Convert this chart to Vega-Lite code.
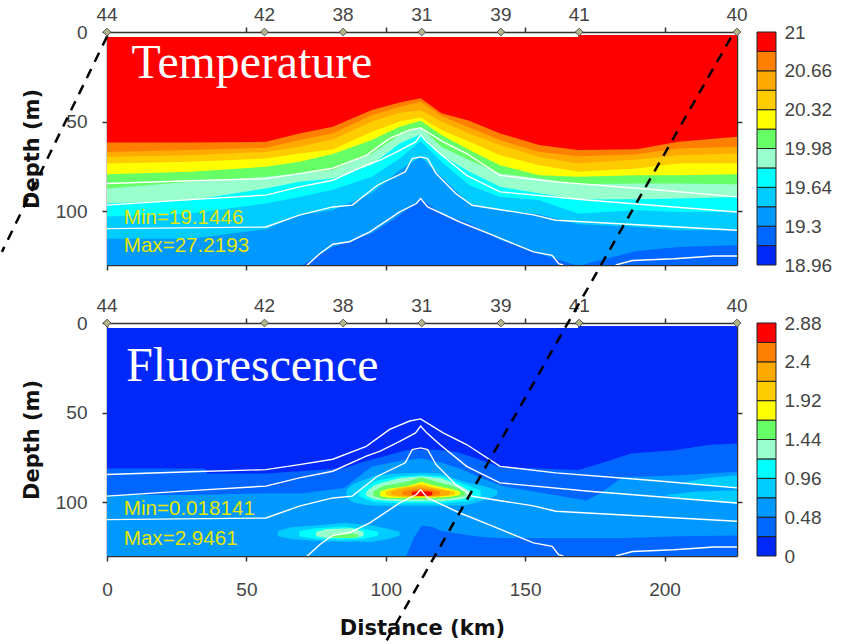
{"$schema":"https://vega.github.io/schema/vega-lite/v6.json","background":"white","padding":{"left":0,"top":6,"right":0,"bottom":0},"columns":2,"spacing":{"row":58,"column":20},"bounds":"flush",
"config":{"view":{"stroke":null},"axis":{"grid":false,"labelFlush":false,"domainColor":"#333333","domainWidth":1.5,"tickColor":"#333333","tickWidth":1.5,"tickSize":5,"labelFont":"Liberation Sans","labelFontSize":19,"labelColor":"#444444","titleFont":"DejaVu Sans","titleFontSize":21,"titleFontWeight":"bold","titleColor":"#111111","zindex":1}},
"datasets":{
"temperature":[
{"level":11,"km":0,"top":2.8},{"level":11,"km":169,"top":2.8},{"level":11,"km":169.01,"top":1.7},{"level":11,"km":226,"top":1.7},
{"level":10,"km":0,"top":61.6},{"level":10,"km":30,"top":61.6},{"level":10,"km":57,"top":61.3},{"level":10,"km":69,"top":56.6},{"level":10,"km":81,"top":52.9},{"level":10,"km":95,"top":43.5},{"level":10,"km":105,"top":39.3},{"level":10,"km":112.5,"top":37},{"level":10,"km":120,"top":45.4},{"level":10,"km":130,"top":49.5},{"level":10,"km":141,"top":56.6},{"level":10,"km":155,"top":63},{"level":10,"km":169,"top":65.9},{"level":10,"km":190,"top":65.4},{"level":10,"km":205,"top":61.3},{"level":10,"km":226,"top":58.5},
{"level":9,"km":0,"top":66.9},{"level":9,"km":30,"top":65.9},{"level":9,"km":57,"top":64.6},{"level":9,"km":69,"top":60.3},{"level":9,"km":81,"top":56.6},{"level":9,"km":95,"top":46.3},{"level":9,"km":105,"top":41.7},{"level":9,"km":112.5,"top":38.9},{"level":9,"km":120,"top":46.9},{"level":9,"km":130,"top":53.3},{"level":9,"km":141,"top":60.3},{"level":9,"km":155,"top":66.8},{"level":9,"km":169,"top":69.3},{"level":9,"km":190,"top":68.2},{"level":9,"km":205,"top":65},{"level":9,"km":226,"top":64},
{"level":8,"km":0,"top":69.6},{"level":8,"km":30,"top":68.7},{"level":8,"km":57,"top":66.9},{"level":8,"km":69,"top":64},{"level":8,"km":81,"top":60},{"level":8,"km":95,"top":50},{"level":8,"km":105,"top":45},{"level":8,"km":112.5,"top":43.6},{"level":8,"km":120,"top":50},{"level":8,"km":130,"top":56.6},{"level":8,"km":141,"top":63},{"level":8,"km":155,"top":69.7},{"level":8,"km":169,"top":73.4},{"level":8,"km":190,"top":71.1},{"level":8,"km":205,"top":68.7},{"level":8,"km":226,"top":67.8},
{"level":7,"km":0,"top":73.4},{"level":7,"km":30,"top":72.4},{"level":7,"km":57,"top":70.6},{"level":7,"km":69,"top":67.8},{"level":7,"km":81,"top":65.5},{"level":7,"km":95,"top":55.7},{"level":7,"km":105,"top":50},{"level":7,"km":112.5,"top":47.7},{"level":7,"km":120,"top":54.7},{"level":7,"km":130,"top":61.3},{"level":7,"km":141,"top":68.7},{"level":7,"km":155,"top":74.3},{"level":7,"km":169,"top":78},{"level":7,"km":190,"top":76.2},{"level":7,"km":205,"top":73.4},{"level":7,"km":226,"top":73.4},
{"level":6,"km":0,"top":79.3},{"level":6,"km":30,"top":78},{"level":6,"km":57,"top":75.2},{"level":6,"km":69,"top":72.4},{"level":6,"km":81,"top":68},{"level":6,"km":95,"top":60.3},{"level":6,"km":105,"top":52.9},{"level":6,"km":112.5,"top":49.5},{"level":6,"km":120,"top":57.5},{"level":6,"km":130,"top":65.9},{"level":6,"km":141,"top":74.3},{"level":6,"km":155,"top":79.9},{"level":6,"km":169,"top":80.8},{"level":6,"km":190,"top":79.9},{"level":6,"km":205,"top":79.9},{"level":6,"km":226,"top":79.3},
{"level":5,"km":0,"top":87.3},{"level":5,"km":30,"top":83.6},{"level":5,"km":57,"top":80.8},{"level":5,"km":69,"top":79},{"level":5,"km":81,"top":77},{"level":5,"km":95,"top":67.8},{"level":5,"km":105,"top":57.5},{"level":5,"km":112.5,"top":53.3},{"level":5,"km":120,"top":64},{"level":5,"km":130,"top":71.5},{"level":5,"km":141,"top":79},{"level":5,"km":155,"top":81.8},{"level":5,"km":169,"top":84.9},{"level":5,"km":190,"top":84.5},{"level":5,"km":205,"top":84.5},{"level":5,"km":226,"top":84.9},
{"level":4,"km":0,"top":95.7},{"level":4,"km":30,"top":93.9},{"level":4,"km":57,"top":87.3},{"level":4,"km":69,"top":83.6},{"level":4,"km":81,"top":81.8},{"level":4,"km":95,"top":74},{"level":4,"km":105,"top":62.2},{"level":4,"km":112.5,"top":57},{"level":4,"km":120,"top":68.7},{"level":4,"km":130,"top":78},{"level":4,"km":141,"top":86.4},{"level":4,"km":155,"top":90},{"level":4,"km":169,"top":93.5},{"level":4,"km":190,"top":93.3},{"level":4,"km":205,"top":92.9},{"level":4,"km":226,"top":92},
{"level":3,"km":0,"top":103},{"level":3,"km":30,"top":101.3},{"level":3,"km":57,"top":95.7},{"level":3,"km":69,"top":92},{"level":3,"km":81,"top":88},{"level":3,"km":95,"top":80.8},{"level":3,"km":105,"top":70.6},{"level":3,"km":112.5,"top":61},{"level":3,"km":120,"top":72.4},{"level":3,"km":130,"top":85.5},{"level":3,"km":141,"top":92},{"level":3,"km":155,"top":93.8},{"level":3,"km":169,"top":101.3},{"level":3,"km":190,"top":99.4},{"level":3,"km":205,"top":100.4},{"level":3,"km":226,"top":100.4},
{"level":2,"km":0,"top":115.3},{"level":2,"km":30,"top":115.3},{"level":2,"km":57,"top":110},{"level":2,"km":69,"top":102},{"level":2,"km":81,"top":99.4},{"level":2,"km":95,"top":90},{"level":2,"km":105,"top":77},{"level":2,"km":112.5,"top":69.7},{"level":2,"km":120,"top":80.8},{"level":2,"km":130,"top":95.7},{"level":2,"km":141,"top":99.4},{"level":2,"km":155,"top":101.7},{"level":2,"km":169,"top":107.3},{"level":2,"km":190,"top":108.8},{"level":2,"km":205,"top":110.6},{"level":2,"km":226,"top":110.6},
{"level":1,"km":0,"top":140},{"level":1,"km":30,"top":135},{"level":1,"km":57,"top":133},{"level":1,"km":69,"top":131},{"level":1,"km":81,"top":120},{"level":1,"km":95,"top":112.4},{"level":1,"km":105,"top":102.2},{"level":1,"km":112.5,"top":93},{"level":1,"km":120,"top":101.3},{"level":1,"km":130,"top":106.9},{"level":1,"km":141,"top":116},{"level":1,"km":155,"top":123.7},{"level":1,"km":169,"top":130.5},{"level":1,"km":190,"top":122.2},{"level":1,"km":205,"top":120},{"level":1,"km":226,"top":119}
],
"fluorescence":[
{"level":0,"part":"0","km":0,"top":2.8,"bottom":130},{"level":0,"part":"0","km":169,"top":2.8,"bottom":130},{"level":0,"part":"0","km":169.01,"top":1.7,"bottom":130},{"level":0,"part":"0","km":226,"top":1.7,"bottom":130},
{"level":1,"part":"1","km":0,"top":81.2,"bottom":130},{"level":1,"part":"1","km":35,"top":81.2,"bottom":130},{"level":1,"part":"1","km":36,"top":84,"bottom":130},{"level":1,"part":"1","km":57,"top":84,"bottom":130},{"level":1,"part":"1","km":85,"top":81,"bottom":130},{"level":1,"part":"1","km":93,"top":77,"bottom":130},{"level":1,"part":"1","km":107.4,"top":71,"bottom":130},{"level":1,"part":"1","km":117,"top":70.6,"bottom":130},{"level":1,"part":"1","km":125.4,"top":72,"bottom":130},{"level":1,"part":"1","km":132.6,"top":75.6,"bottom":130},{"level":1,"part":"1","km":141,"top":80.3,"bottom":130},{"level":1,"part":"1","km":169,"top":82,"bottom":130},{"level":1,"part":"1","km":178.6,"top":77.5,"bottom":130},{"level":1,"part":"1","km":188,"top":72.8,"bottom":130},{"level":1,"part":"1","km":203.5,"top":71,"bottom":130},{"level":1,"part":"1","km":215.5,"top":68,"bottom":130},{"level":1,"part":"1","km":226,"top":67.2,"bottom":130},
{"level":2,"part":"2","km":0,"top":96,"bottom":130},{"level":2,"part":"2","km":30,"top":96,"bottom":130},{"level":2,"part":"2","km":57,"top":95,"bottom":130},{"level":2,"part":"2","km":70,"top":95,"bottom":130},{"level":2,"part":"2","km":85,"top":92,"bottom":130},{"level":2,"part":"2","km":90,"top":86,"bottom":130},{"level":2,"part":"2","km":95,"top":80,"bottom":130},{"level":2,"part":"2","km":105,"top":77,"bottom":130},{"level":2,"part":"2","km":107.4,"top":76.5,"bottom":130},{"level":2,"part":"2","km":110,"top":76,"bottom":120},{"level":2,"part":"2","km":113,"top":75.6,"bottom":113},{"level":2,"part":"2","km":117,"top":77,"bottom":114},{"level":2,"part":"2","km":120,"top":78,"bottom":116},{"level":2,"part":"2","km":128,"top":82,"bottom":118},{"level":2,"part":"2","km":135,"top":87,"bottom":119.5},{"level":2,"part":"2","km":142,"top":91,"bottom":120},{"level":2,"part":"2","km":153,"top":94,"bottom":120},{"level":2,"part":"2","km":172,"top":99,"bottom":120},{"level":2,"part":"2","km":177,"top":95,"bottom":120},{"level":2,"part":"2","km":185,"top":86,"bottom":120},{"level":2,"part":"2","km":205,"top":85,"bottom":119},{"level":2,"part":"2","km":226,"top":83,"bottom":118.5},
{"level":3,"part":"3a","km":85.9,"top":93.5,"bottom":97},{"level":3,"part":"3a","km":88,"top":90,"bottom":100},{"level":3,"part":"3a","km":93,"top":87,"bottom":101.5},{"level":3,"part":"3a","km":96.6,"top":85,"bottom":102},{"level":3,"part":"3a","km":105,"top":84,"bottom":102},{"level":3,"part":"3a","km":112.8,"top":83.5,"bottom":102},{"level":3,"part":"3a","km":119.4,"top":84,"bottom":102},{"level":3,"part":"3a","km":129,"top":89,"bottom":101.5},{"level":3,"part":"3a","km":135,"top":91,"bottom":99},{"level":3,"part":"3a","km":140,"top":93.3,"bottom":96},
{"level":3,"part":"3b","km":61.3,"top":116,"bottom":119},{"level":3,"part":"3b","km":66,"top":114,"bottom":120.5},{"level":3,"part":"3b","km":75,"top":113,"bottom":121.5},{"level":3,"part":"3b","km":85,"top":111.5,"bottom":122},{"level":3,"part":"3b","km":95,"top":113,"bottom":122},{"level":3,"part":"3b","km":101,"top":115,"bottom":120.5},{"level":3,"part":"3b","km":105,"top":116.5,"bottom":118.5},
{"level":3,"part":"3c","km":207,"top":89,"bottom":89.5},{"level":3,"part":"3c","km":215,"top":86.5,"bottom":91},{"level":3,"part":"3c","km":226,"top":84.9,"bottom":92.4},
{"level":3,"part":"3d","km":200.8,"top":96,"bottom":96.5},{"level":3,"part":"3d","km":210,"top":94.2,"bottom":98.5},{"level":3,"part":"3d","km":226,"top":93.3,"bottom":101},
{"level":4,"part":"4a","km":90.5,"top":94,"bottom":96.5},{"level":4,"part":"4a","km":93,"top":91,"bottom":98.5},{"level":4,"part":"4a","km":96.6,"top":88,"bottom":100},{"level":4,"part":"4a","km":105,"top":85.5,"bottom":100.5},{"level":4,"part":"4a","km":112.8,"top":85,"bottom":100.5},{"level":4,"part":"4a","km":120,"top":85.5,"bottom":100.5},{"level":4,"part":"4a","km":129,"top":90.5,"bottom":99.5},{"level":4,"part":"4a","km":134,"top":93.5,"bottom":97},
{"level":4,"part":"4b","km":69,"top":116,"bottom":119},{"level":4,"part":"4b","km":75,"top":114.5,"bottom":120.5},{"level":4,"part":"4b","km":85,"top":113.5,"bottom":121},{"level":4,"part":"4b","km":92,"top":115,"bottom":120.5},{"level":4,"part":"4b","km":97.3,"top":116.5,"bottom":118.5},
{"level":5,"part":"5a","km":93,"top":94,"bottom":96.5},{"level":5,"part":"5a","km":96,"top":90.5,"bottom":98.5},{"level":5,"part":"5a","km":99,"top":89,"bottom":99},{"level":5,"part":"5a","km":105,"top":86.5,"bottom":99.5},{"level":5,"part":"5a","km":112.8,"top":85.5,"bottom":99.5},{"level":5,"part":"5a","km":120,"top":86.5,"bottom":99.5},{"level":5,"part":"5a","km":127,"top":91,"bottom":98.5},{"level":5,"part":"5a","km":130.5,"top":94,"bottom":96.5},
{"level":5,"part":"5b","km":75,"top":116.5,"bottom":119},{"level":5,"part":"5b","km":79,"top":115,"bottom":120},{"level":5,"part":"5b","km":88,"top":114.5,"bottom":120},{"level":5,"part":"5b","km":92,"top":116.5,"bottom":119},
{"level":6,"part":"6a","km":95.5,"top":94,"bottom":96.5},{"level":6,"part":"6a","km":99,"top":91,"bottom":98},{"level":6,"part":"6a","km":108,"top":88.5,"bottom":98.5},{"level":6,"part":"6a","km":112.8,"top":86,"bottom":98.5},{"level":6,"part":"6a","km":118,"top":88.5,"bottom":98.5},{"level":6,"part":"6a","km":124,"top":91,"bottom":97.8},{"level":6,"part":"6a","km":128.5,"top":94,"bottom":96.5},
{"level":6,"part":"6b","km":80,"top":118,"bottom":119.5},{"level":6,"part":"6b","km":84,"top":117.5,"bottom":119.8},{"level":6,"part":"6b","km":88,"top":117.5,"bottom":119.8},{"level":6,"part":"6b","km":90,"top":118,"bottom":119.5},
{"level":7,"part":"7","km":98,"top":94,"bottom":96.5},{"level":7,"part":"7","km":101,"top":92.5,"bottom":97.5},{"level":7,"part":"7","km":108,"top":91,"bottom":97.5},{"level":7,"part":"7","km":112.8,"top":88.6,"bottom":97.5},{"level":7,"part":"7","km":118,"top":91,"bottom":97.5},{"level":7,"part":"7","km":123,"top":92.5,"bottom":97},{"level":7,"part":"7","km":126.6,"top":94,"bottom":96},
{"level":8,"part":"8","km":100,"top":94,"bottom":96},{"level":8,"part":"8","km":103,"top":92.5,"bottom":97},{"level":8,"part":"8","km":112.8,"top":90,"bottom":97},{"level":8,"part":"8","km":118,"top":92,"bottom":97},{"level":8,"part":"8","km":124.8,"top":94,"bottom":96},
{"level":9,"part":"9","km":102,"top":94,"bottom":96},{"level":9,"part":"9","km":106,"top":92.5,"bottom":96.8},{"level":9,"part":"9","km":112.8,"top":91,"bottom":96.8},{"level":9,"part":"9","km":118,"top":92.5,"bottom":96.8},{"level":9,"part":"9","km":123,"top":94,"bottom":96},
{"level":10,"part":"10","km":106,"top":94,"bottom":96},{"level":10,"part":"10","km":109,"top":93,"bottom":96.5},{"level":10,"part":"10","km":112.8,"top":92.4,"bottom":96.5},{"level":10,"part":"10","km":116,"top":93,"bottom":96.5},{"level":10,"part":"10","km":119.4,"top":94,"bottom":96},
{"level":11,"part":"11","km":109.4,"top":94.3,"bottom":96},{"level":11,"part":"11","km":110.5,"top":94,"bottom":96.4},{"level":11,"part":"11","km":112.8,"top":93.8,"bottom":96.5},{"level":11,"part":"11","km":115.5,"top":94,"bottom":96.4},{"level":11,"part":"11","km":116.7,"top":94.3,"bottom":96}
],
"contours":[
{"part":"A","km":0,"depth":84.5},{"part":"A","km":30,"depth":83},{"part":"A","km":57,"depth":81.8},{"part":"A","km":69,"depth":79},{"part":"A","km":81,"depth":76},{"part":"A","km":93,"depth":68.8},{"part":"A","km":101.4,"depth":59.4},{"part":"A","km":108.6,"depth":54.7},{"part":"A","km":112.5,"depth":53.5},{"part":"A","km":120.6,"depth":61.3},{"part":"A","km":129,"depth":67.8},{"part":"A","km":141,"depth":80},{"part":"A","km":161,"depth":83.6},{"part":"A","km":197,"depth":88},{"part":"A","km":226,"depth":92},
{"part":"B","km":0,"depth":96.6},{"part":"B","km":30,"depth":93.5},{"part":"B","km":57,"depth":91},{"part":"B","km":69,"depth":86.4},{"part":"B","km":81,"depth":82.7},{"part":"B","km":93,"depth":74.3},{"part":"B","km":98,"depth":71.5},{"part":"B","km":105,"depth":66},{"part":"B","km":110.7,"depth":61.3},{"part":"B","km":112.5,"depth":57.5},{"part":"B","km":114.7,"depth":61.3},{"part":"B","km":119.4,"depth":67.8},{"part":"B","km":129,"depth":80},{"part":"B","km":141,"depth":89.2},{"part":"B","km":173,"depth":93.9},{"part":"B","km":226,"depth":100.4},
{"part":"C","km":0,"depth":109.7},{"part":"C","km":57,"depth":108.8},{"part":"C","km":69,"depth":102.2},{"part":"C","km":81,"depth":97.6},{"part":"C","km":88,"depth":96.6},{"part":"C","km":97,"depth":85.5},{"part":"C","km":107,"depth":78},{"part":"C","km":109.5,"depth":70.6},{"part":"C","km":112.5,"depth":69.7},{"part":"C","km":115,"depth":70.6},{"part":"C","km":118,"depth":78.9},{"part":"C","km":125,"depth":90},{"part":"C","km":131,"depth":96.7},{"part":"C","km":153,"depth":102},{"part":"C","km":161,"depth":105},{"part":"C","km":226,"depth":110.6},
{"part":"D","km":71.5,"depth":130.5},{"part":"D","km":76.3,"depth":123.7},{"part":"D","km":81,"depth":118.4},{"part":"D","km":87,"depth":117},{"part":"D","km":94.3,"depth":111.5},{"part":"D","km":105,"depth":100.4},{"part":"D","km":111,"depth":95.7},{"part":"D","km":112.5,"depth":92.9},{"part":"D","km":115,"depth":97.6},{"part":"D","km":126.6,"depth":106},{"part":"D","km":137,"depth":112.5},{"part":"D","km":153,"depth":122.7},{"part":"D","km":159.7,"depth":124.6},{"part":"D","km":162,"depth":129.3},{"part":"D","km":163.7,"depth":130},
{"part":"E","km":182.5,"depth":130},{"part":"E","km":188.5,"depth":127.5},{"part":"E","km":203.4,"depth":126.5},{"part":"E","km":217.7,"depth":125},{"part":"E","km":226,"depth":125}
],
"stations":[{"km":0,"depth":0,"station":"44"},{"km":56.5,"depth":0,"station":"42"},{"km":84.7,"depth":0,"station":"38"},{"km":112.9,"depth":0,"station":"31"},{"km":141.3,"depth":0,"station":"39"},{"km":169.4,"depth":0,"station":"41"},{"km":226,"depth":0,"station":"40"}],
"tbar":[{"level":0,"low":18.96,"high":19.13},{"level":1,"low":19.13,"high":19.3},{"level":2,"low":19.3,"high":19.47},{"level":3,"low":19.47,"high":19.64},{"level":4,"low":19.64,"high":19.81},{"level":5,"low":19.81,"high":19.98},{"level":6,"low":19.98,"high":20.15},{"level":7,"low":20.15,"high":20.32},{"level":8,"low":20.32,"high":20.49},{"level":9,"low":20.49,"high":20.66},{"level":10,"low":20.66,"high":20.83},{"level":11,"low":20.83,"high":21}],
"fbar":[{"level":0,"low":0,"high":0.24},{"level":1,"low":0.24,"high":0.48},{"level":2,"low":0.48,"high":0.72},{"level":3,"low":0.72,"high":0.96},{"level":4,"low":0.96,"high":1.2},{"level":5,"low":1.2,"high":1.44},{"level":6,"low":1.44,"high":1.68},{"level":7,"low":1.68,"high":1.92},{"level":8,"low":1.92,"high":2.16},{"level":9,"low":2.16,"high":2.4},{"level":10,"low":2.4,"high":2.64},{"level":11,"low":2.64,"high":2.88}]
},
"concat":[
{"width":630,"height":233,"resolve":{"axis":{"x":"independent","y":"independent"}},"layer":[
{"data":{"name":"temperature"},"mark":{"type":"area","orient":"vertical","clip":true},"encoding":{"x":{"field":"km","type":"quantitative","scale":{"domain":[0,226],"nice":false},"axis":{"values":[0,50,100,150,200],"labels":false,"title":null}},"y":{"field":"top","type":"quantitative","scale":{"domain":[0,130],"reverse":true,"nice":false},"axis":{"values":[0,50,100],"title":"Depth (m)","titlePadding":12.5,"labelPadding":15}},"y2":{"datum":130},"color":{"field":"level","type":"nominal","legend":null,"scale":{"domain":[0,1,2,3,4,5,6,7,8,9,10,11],"range":["#0028f8","#0066ff","#0099ff","#00ccff","#00ffff","#99ffcc","#66ff66","#ffff00","#ffcc00","#ffaa00","#ff7f00","#ff0000"]}}}},
{"data":{"name":"contours"},"mark":{"type":"line","color":"white","strokeWidth":1.4,"clip":true},"encoding":{"x":{"field":"km","type":"quantitative","scale":{"domain":[0,226],"nice":false},"axis":null},"y":{"field":"depth","type":"quantitative","scale":{"domain":[0,130],"reverse":true,"nice":false},"axis":null},"detail":{"field":"part"}}},
{"data":{"values":[{"km":8.8,"depth":25.8,"label":"Temperature"}]},"mark":{"type":"text","font":"Liberation Serif","fontSize":47.8,"color":"white","align":"left","baseline":"alphabetic"},"encoding":{"x":{"field":"km","type":"quantitative","scale":{"domain":[0,226],"nice":false},"axis":null},"y":{"field":"depth","type":"quantitative","scale":{"domain":[0,130],"reverse":true,"nice":false},"axis":null},"text":{"field":"label"}}},
{"data":{"values":[{"km":6,"depth":103.7,"label":"Min=19.1446"},{"km":6,"depth":119.6,"label":"Max=27.2193"}]},"mark":{"type":"text","font":"Liberation Sans","fontSize":20.6,"color":"#e6e600","align":"left","baseline":"middle"},"encoding":{"x":{"field":"km","type":"quantitative","scale":{"domain":[0,226],"nice":false},"axis":null},"y":{"field":"depth","type":"quantitative","scale":{"domain":[0,130],"reverse":true,"nice":false},"axis":null},"text":{"field":"label"}}},
{"data":{"name":"stations"},"mark":{"type":"text","font":"Liberation Sans","fontSize":19,"color":"#444444","dy":-17,"baseline":"middle"},"encoding":{"x":{"field":"km","type":"quantitative","scale":{"domain":[0,226],"nice":false},"axis":null},"y":{"field":"depth","type":"quantitative","scale":{"domain":[0,130],"reverse":true,"nice":false},"axis":null},"text":{"field":"station"}}},
{"data":{"name":"stations"},"mark":{"type":"point","shape":"diamond","filled":true,"size":60,"fill":"#b5b58c","stroke":"#555555","strokeWidth":1,"opacity":1},"encoding":{"x":{"field":"km","type":"quantitative","scale":{"domain":[0,226],"nice":false},"axis":{"orient":"top","values":[50,100,150,200],"labels":false,"title":null}},"y":{"field":"depth","type":"quantitative","scale":{"domain":[0,130],"reverse":true,"nice":false},"axis":{"orient":"right","values":[50,100],"labels":false,"title":null}}}}
]},
{"width":19,"height":233,"data":{"name":"tbar"},"mark":{"type":"rect","stroke":"#222222","strokeWidth":1},"encoding":{"y":{"field":"low","type":"quantitative","scale":{"domain":[18.96,21],"nice":false,"zero":false},"axis":{"values":[18.96,19.3,19.64,19.98,20.32,20.66,21],"labelExpr":"''+datum.value","ticks":false,"domain":false,"orient":"right","labelPadding":8,"title":null}},"y2":{"field":"high"},"color":{"field":"level","type":"nominal","legend":null,"scale":{"domain":[0,1,2,3,4,5,6,7,8,9,10,11],"range":["#0028f8","#0066ff","#0099ff","#00ccff","#00ffff","#99ffcc","#66ff66","#ffff00","#ffcc00","#ffaa00","#ff7f00","#ff0000"]}}}},
{"width":630,"height":233,"resolve":{"axis":{"x":"independent","y":"independent"}},"layer":[
{"data":{"name":"fluorescence"},"mark":{"type":"area","orient":"vertical","clip":true},"encoding":{"x":{"field":"km","type":"quantitative","scale":{"domain":[0,226],"nice":false},"axis":{"values":[0,50,100,150,200],"title":"Distance (km)","labelPadding":19,"titlePadding":18}},"y":{"field":"top","type":"quantitative","scale":{"domain":[0,130],"reverse":true,"nice":false},"axis":{"values":[0,50,100],"title":"Depth (m)","titlePadding":12.5,"labelPadding":15}},"y2":{"field":"bottom"},"detail":{"field":"part"},"color":{"field":"level","type":"nominal","legend":null,"scale":{"domain":[0,1,2,3,4,5,6,7,8,9,10,11],"range":["#0028f8","#0066ff","#0099ff","#00ccff","#00ffff","#99ffcc","#66ff66","#ffff00","#ffcc00","#ffaa00","#ff7f00","#ff0000"]}}}},
{"data":{"name":"contours"},"mark":{"type":"line","color":"white","strokeWidth":1.4,"clip":true},"encoding":{"x":{"field":"km","type":"quantitative","scale":{"domain":[0,226],"nice":false},"axis":null},"y":{"field":"depth","type":"quantitative","scale":{"domain":[0,130],"reverse":true,"nice":false},"axis":null},"detail":{"field":"part"}}},
{"data":{"values":[{"km":6.9,"depth":32.2,"label":"Fluorescence"}]},"mark":{"type":"text","font":"Liberation Serif","fontSize":47.8,"color":"white","align":"left","baseline":"alphabetic"},"encoding":{"x":{"field":"km","type":"quantitative","scale":{"domain":[0,226],"nice":false},"axis":null},"y":{"field":"depth","type":"quantitative","scale":{"domain":[0,130],"reverse":true,"nice":false},"axis":null},"text":{"field":"label"}}},
{"data":{"values":[{"km":6,"depth":103.9,"label":"Min=0.018141"},{"km":6,"depth":120.3,"label":"Max=2.9461"}]},"mark":{"type":"text","font":"Liberation Sans","fontSize":20.6,"color":"#e6e600","align":"left","baseline":"middle"},"encoding":{"x":{"field":"km","type":"quantitative","scale":{"domain":[0,226],"nice":false},"axis":null},"y":{"field":"depth","type":"quantitative","scale":{"domain":[0,130],"reverse":true,"nice":false},"axis":null},"text":{"field":"label"}}},
{"data":{"name":"stations"},"mark":{"type":"text","font":"Liberation Sans","fontSize":19,"color":"#444444","dy":-17,"baseline":"middle"},"encoding":{"x":{"field":"km","type":"quantitative","scale":{"domain":[0,226],"nice":false},"axis":null},"y":{"field":"depth","type":"quantitative","scale":{"domain":[0,130],"reverse":true,"nice":false},"axis":null},"text":{"field":"station"}}},
{"data":{"name":"stations"},"mark":{"type":"point","shape":"diamond","filled":true,"size":60,"fill":"#b5b58c","stroke":"#555555","strokeWidth":1,"opacity":1},"encoding":{"x":{"field":"km","type":"quantitative","scale":{"domain":[0,226],"nice":false},"axis":{"orient":"top","values":[50,100,150,200],"labels":false,"title":null}},"y":{"field":"depth","type":"quantitative","scale":{"domain":[0,130],"reverse":true,"nice":false},"axis":{"orient":"right","values":[50,100],"labels":false,"title":null}}}},
{"data":{"values":[{"id":"left","km":0,"depth":-159.8},{"id":"left","km":-37.7,"depth":-39.7},{"id":"right","km":223.8,"depth":-159.2},{"id":"right","km":100.3,"depth":177.1}]},"mark":{"type":"line","color":"black","strokeWidth":2.5,"strokeDash":[10,8],"strokeJoin":"round","clip":false},"encoding":{"x":{"field":"km","type":"quantitative","scale":{"domain":[0,226],"nice":false},"axis":null,"sort":null},"y":{"field":"depth","type":"quantitative","scale":{"domain":[0,130],"reverse":true,"nice":false},"axis":null},"detail":{"field":"id"},"order":{"field":"depth"}}}
]},
{"width":19,"height":233,"data":{"name":"fbar"},"mark":{"type":"rect","stroke":"#222222","strokeWidth":1},"encoding":{"y":{"field":"low","type":"quantitative","scale":{"domain":[0,2.88],"nice":false,"zero":false},"axis":{"values":[0,0.48,0.96,1.44,1.92,2.4,2.88],"labelExpr":"''+datum.value","ticks":false,"domain":false,"orient":"right","labelPadding":8,"title":null}},"y2":{"field":"high"},"color":{"field":"level","type":"nominal","legend":null,"scale":{"domain":[0,1,2,3,4,5,6,7,8,9,10,11],"range":["#0028f8","#0066ff","#0099ff","#00ccff","#00ffff","#99ffcc","#66ff66","#ffff00","#ffcc00","#ffaa00","#ff7f00","#ff0000"]}}}}
]}
